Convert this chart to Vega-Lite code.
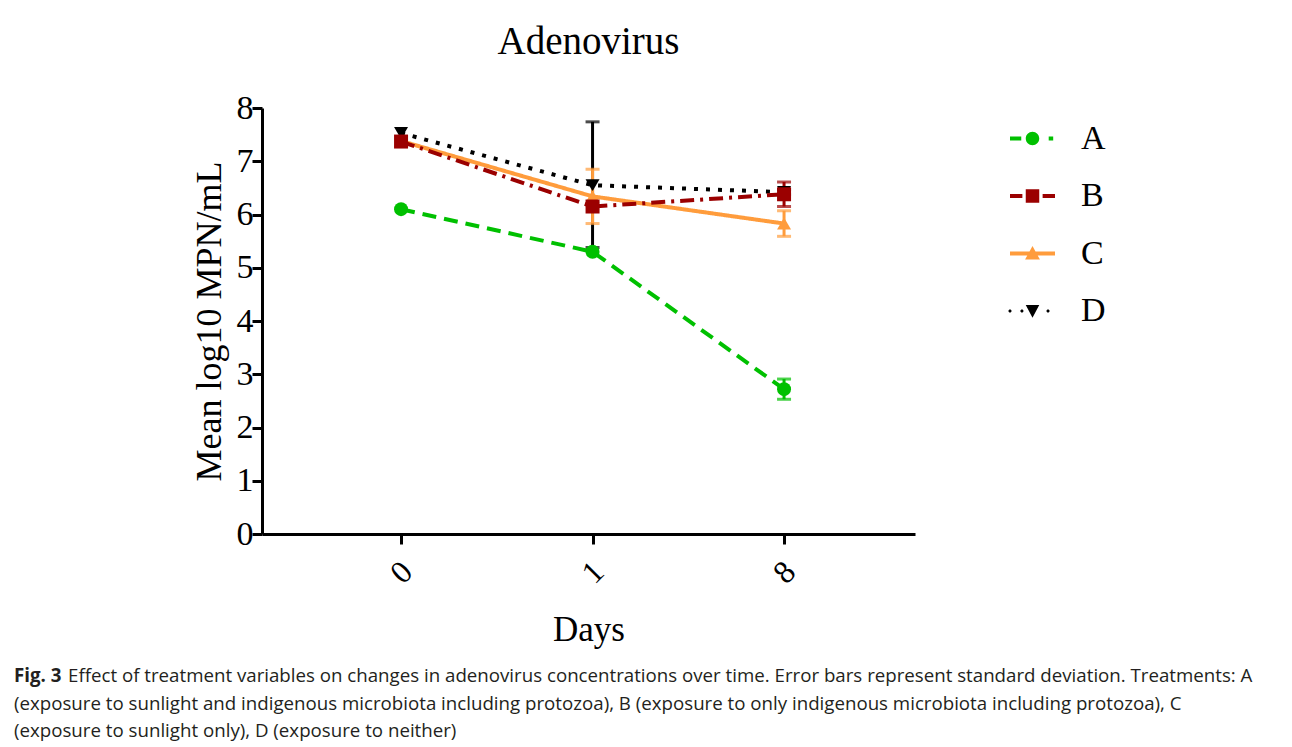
{
  "$schema": "https://vega.github.io/schema/vega-lite/v6.json",
  "background": "white",
  "padding": {"left": 14, "top": 23, "right": 10, "bottom": 5},
  "config": {"view": {"stroke": null}, "font": "Liberation Serif"},
  "datasets": {
    "means": [
      {"series": "D", "day": "0", "mean": 7.53},
      {"series": "D", "day": "1", "mean": 6.55},
      {"series": "D", "day": "8", "mean": 6.42},
      {"series": "C", "day": "0", "mean": 7.38},
      {"series": "C", "day": "1", "mean": 6.34},
      {"series": "C", "day": "8", "mean": 5.83},
      {"series": "B", "day": "0", "mean": 7.37},
      {"series": "B", "day": "1", "mean": 6.15},
      {"series": "B", "day": "8", "mean": 6.38},
      {"series": "A", "day": "0", "mean": 6.10},
      {"series": "A", "day": "1", "mean": 5.30},
      {"series": "A", "day": "8", "mean": 2.72}
    ],
    "errs": [
      {"series": "D", "day": "1", "lo": 5.38, "hi": 7.74},
      {"series": "D", "day": "8", "lo": 6.37, "hi": 6.47},
      {"series": "C", "day": "1", "lo": 5.83, "hi": 6.85},
      {"series": "C", "day": "8", "lo": 5.59, "hi": 6.07},
      {"series": "B", "day": "8", "lo": 6.15, "hi": 6.61},
      {"series": "A", "day": "8", "lo": 2.53, "hi": 2.91}
    ],
    "capBold": [{"line": 1, "text": "Fig. 3"}],
    "capFirst": [{"line": 1, "text": "Effect of treatment variables on changes in adenovirus concentrations over time. Error bars represent standard deviation. Treatments: A"}],
    "capRest": [
      {"line": 2, "text": "(exposure to sunlight and indigenous microbiota including protozoa), B (exposure to only indigenous microbiota including protozoa), C"},
      {"line": 3, "text": "(exposure to sunlight only), D (exposure to neither)"}
    ]
  },
  "bounds": "flush",
  "center": true,
  "spacing": 142,
  "vconcat": [
    {
      "width": 653,
      "height": 426,
      "title": {"text": "Adenovirus", "fontSize": 39, "font": "Liberation Serif", "fontWeight": "normal", "color": "black", "anchor": "middle", "frame": "group", "offset": 29},
      "encoding": {
        "x": {
          "field": "day", "type": "ordinal", "title": "Days",
          "scale": {"type": "point", "domain": ["0", "1", "8"], "padding": 0.705, "align": 0.515},
          "axis": {"labelAngle": -45, "labelAlign": "center", "labelBaseline": "middle", "labelFontSize": 32, "labelFont": "Liberation Serif", "labelColor": "black", "labelPadding": 28, "tickSize": 10, "tickWidth": 3, "tickColor": "black", "domainColor": "black", "domainWidth": 3, "titleFontSize": 35, "titleFont": "Liberation Serif", "titleFontWeight": "normal", "titleColor": "black", "titlePadding": 24, "grid": false}
        },
        "color": {
          "field": "series", "type": "nominal",
          "scale": {"domain": ["A", "B", "C", "D"], "range": ["#00C000", "#9B0000", "#FF9C3C", "#000000"]},
          "legend": {
            "title": null, "orient": "none", "legendX": 991, "legendY": 3, "padding": 5, "rowPadding": 17.5,
            "symbolSize": 2025, "labelFontSize": 34, "labelFont": "Liberation Serif", "labelColor": "black", "labelOffset": 26,
            "symbolStrokeWidth": 0,
            "encode": {"symbols": {"update": {
              "shape": {"signal": "datum.value === 'A' ? 'M-1,-0.09H-0.5V0.09H-1Z M0.3,0A0.3,0.3 0 1,1 -0.3,0A0.3,0.3 0 1,1 0.3,0Z M0.72,-0.09H0.92V0.09H0.72Z' : datum.value === 'B' ? 'M-1,-0.09H-0.45V0.09H-1Z M-0.3,-0.3H0.3V0.3H-0.3Z M0.45,-0.09H1V0.09H0.45Z' : datum.value === 'C' ? 'M-1,-0.09H1V0.09H-1Z M0,-0.33L0.33,0.27H-0.33Z' : 'M-1.07,0A0.07,0.07 0 1,1 -0.93,0A0.07,0.07 0 1,1 -1.07,0Z M-0.54,0A0.07,0.07 0 1,1 -0.4,0A0.07,0.07 0 1,1 -0.54,0Z M-0.3,-0.27H0.3L0,0.3Z M0.62,0A0.07,0.07 0 1,1 0.76,0A0.07,0.07 0 1,1 0.62,0Z'"},
              "fill": {"scale": "color", "field": "value"},
              "fillOpacity": {"value": 1},
              "opacity": {"value": 1},
              "strokeWidth": {"value": 0}
            }}}
          }
        },
        "y": {
          "field": "mean", "type": "quantitative", "title": "Mean log10 MPN/mL",
          "scale": {"domain": [0, 8], "nice": false},
          "axis": {"values": [0, 1, 2, 3, 4, 5, 6, 7, 8], "labelFontSize": 34, "labelFont": "Liberation Serif", "labelColor": "black", "labelPadding": -1, "tickSize": 10, "tickWidth": 3, "tickColor": "black", "domainColor": "black", "domainWidth": 3, "titleFontSize": 36, "titleFont": "Liberation Serif", "titleFontWeight": "normal", "titleColor": "black", "titlePadding": 8, "grid": false}
        }
      },
      "layer": [
        {
          "data": {"name": "errs"},
          "mark": {"type": "rule", "strokeWidth": 3},
          "encoding": {
            "y": {"field": "lo", "type": "quantitative"},
            "y2": {"field": "hi"}
          }
        },
        {
          "data": {"name": "errs"},
          "mark": {"type": "tick", "thickness": 3, "size": 14},
          "encoding": {"y": {"field": "hi", "type": "quantitative"}}
        },
        {
          "data": {"name": "errs"},
          "mark": {"type": "tick", "thickness": 3, "size": 14},
          "encoding": {"y": {"field": "lo", "type": "quantitative"}}
        },
        {
          "data": {"name": "means"},
          "mark": {"type": "line", "strokeWidth": 4},
          "encoding": {
            "strokeDash": {"field": "series", "type": "nominal", "legend": null,
              "scale": {"domain": ["A", "B", "C", "D"], "range": [[14, 8], [14, 6, 3, 6], [1, 0], [4, 8]]}}
          }
        },
        {
          "data": {"name": "means"},
          "transform": [{"filter": "datum.series === 'D'"}],
          "mark": {"type": "point", "filled": true, "size": 196, "opacity": 1, "shape": "triangle-down"}
        },
        {
          "data": {"name": "means"},
          "transform": [{"filter": "datum.series === 'C'"}],
          "mark": {"type": "point", "filled": true, "size": 196, "opacity": 1, "shape": "triangle-up"}
        },
        {
          "data": {"name": "means"},
          "transform": [{"filter": "datum.series === 'B'"}],
          "mark": {"type": "point", "filled": true, "size": 196, "opacity": 1, "shape": "square"}
        },
        {
          "data": {"name": "means"},
          "transform": [{"filter": "datum.series === 'A'"}],
          "mark": {"type": "point", "filled": true, "size": 196, "opacity": 1, "shape": "circle"}
        }
      ]
    },
    {
      "width": 1149,
      "height": 55,
      "encoding": {
        "y": {"field": "line", "type": "ordinal", "axis": null, "scale": {"type": "point", "domain": [1, 2, 3], "padding": 0}}
      },
      "layer": [
        {
          "data": {"name": "capBold"},
          "mark": {"type": "text", "align": "left", "baseline": "middle", "font": "Open Sans", "fontSize": 18.7, "fontWeight": "bold", "color": "#231F20", "x": 0},
          "encoding": {"text": {"field": "text"}}
        },
        {
          "data": {"name": "capFirst"},
          "mark": {"type": "text", "align": "left", "baseline": "middle", "font": "Open Sans", "fontSize": 18.7, "color": "#231F20", "x": 0, "dx": 54},
          "encoding": {"text": {"field": "text"}}
        },
        {
          "data": {"name": "capRest"},
          "mark": {"type": "text", "align": "left", "baseline": "middle", "font": "Open Sans", "fontSize": 18.7, "color": "#231F20", "x": 0},
          "encoding": {"text": {"field": "text"}}
        }
      ]
    }
  ]
}
